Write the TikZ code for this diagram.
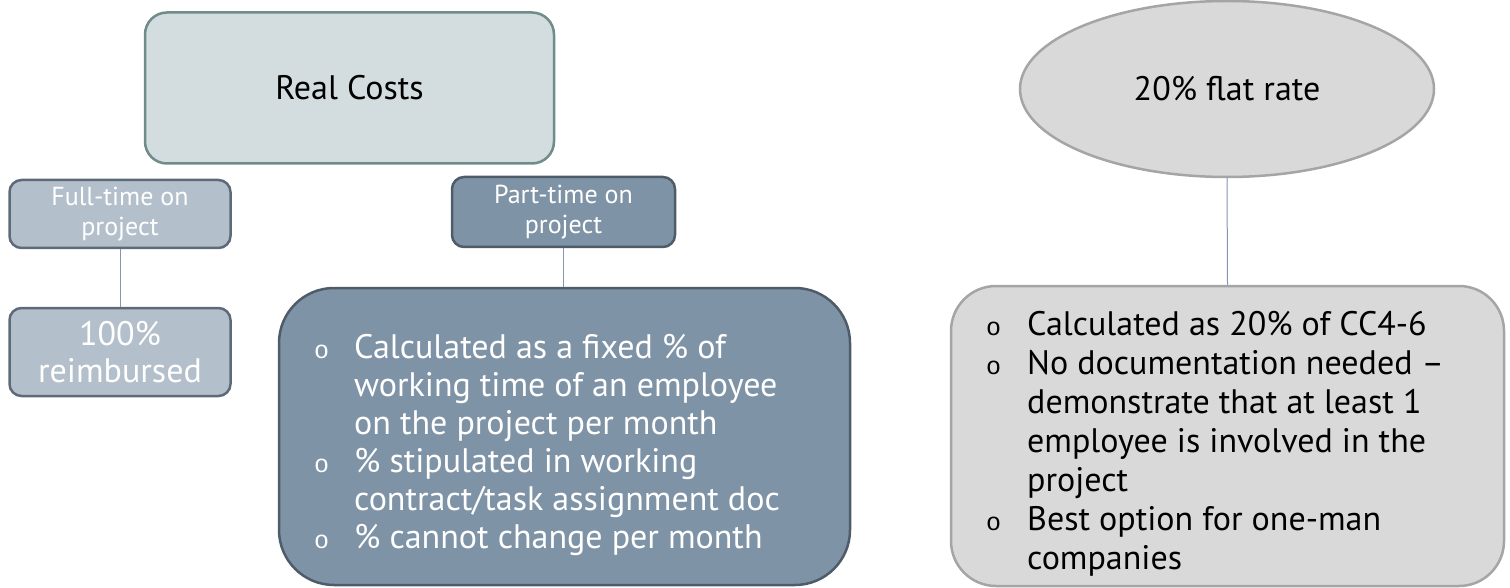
\documentclass[tikz,border=0pt]{standalone}
\usepackage{fontspec}
\setmainfont{PT Sans}
\newfontfamily\bulfont{Liberation Mono}
\usetikzlibrary{shapes.geometric}
\definecolor{realfill}{HTML}{D3DCDE}
\definecolor{realdraw}{HTML}{6F8C8A}
\definecolor{ftfill}{HTML}{B3BFCA}
\definecolor{ftdraw}{HTML}{5D6B78}
\definecolor{ptfill}{HTML}{7F93A6}
\definecolor{ptdraw}{HTML}{4E5C6A}
\definecolor{grayfill}{HTML}{D9D9D9}
\definecolor{graydraw}{HTML}{A5A5A5}
\definecolor{connc}{HTML}{8497AE}
\newcommand{\bul}{{\bulfont\fontsize{25}{25}\selectfont o}}
\tikzset{
  rbox/.style={rectangle, line width=2.5pt, inner sep=0pt, align=center},
  realbox/.style={rbox, fill=realfill, draw=realdraw, rounded corners=22pt, text=black},
  ftbox/.style={rbox, fill=ftfill, draw=ftdraw, rounded corners=12pt, text=white},
  ptbox/.style={rbox, fill=ptfill, draw=ptdraw, text=white},
  graybox/.style={rbox, fill=grayfill, draw=graydraw, text=black},
  conn/.style={draw=connc, line width=1pt},
  listtext/.style={inner sep=0pt, anchor=base west, align=left},
}
\begin{document}
\begin{tikzpicture}[x=1pt,y=-1pt]
\useasboundingbox (0,0) rectangle (1510,588);
% left group
\node[realbox, minimum width=409pt, minimum height=151pt, font=\fontsize{34}{40}\selectfont] (real) at (349.5,88) {Real Costs};
\node[ftbox, minimum width=221pt, minimum height=68pt, font=\fontsize{26}{30}\selectfont] (ft) at (120,214) {Full-time on\\project};
\node[ftbox, minimum width=221pt, minimum height=88pt, font=\fontsize{34}{37}\selectfont] (hr) at (120,352) {100\%\\reimbursed};
\node[ptbox, rounded corners=12pt, minimum width=223pt, minimum height=70pt, font=\fontsize{26}{30}\selectfont] (pt) at (563.5,212) {Part-time on\\project};
\node[ptbox, rounded corners=55pt, minimum width=571pt, minimum height=297pt] (big) at (564.5,436.5) {};
\node[listtext, text=white, font=\fontsize{34}{38}\selectfont] (bigtext) at (314,358) {%
\begin{tabular}[t]{@{}p{40pt}@{}l@{}}
\bul & Calculated as a fixed \% of\\
 & working time of an employee\\
 & on the project per month\\
\bul & \% stipulated in working\\
 & contract/task assignment doc\\
\bul & \% cannot change per month
\end{tabular}};
% right group
\node[graybox, ellipse, minimum width=414pt, minimum height=176pt, font=\fontsize{34}{40}\selectfont] (flat) at (1227,89) {20\% flat rate};
\node[graybox, rounded corners=45pt, minimum width=553pt, minimum height=300pt] (right) at (1227.5,436) {};
\node[listtext, text=black, font=\fontsize{34}{39}\selectfont] (righttext) at (986,335) {%
\begin{tabular}[t]{@{}p{41pt}@{}l@{}}
\bul & Calculated as 20\% of CC4-6\\
\bul & No documentation needed --\\
 & demonstrate that at least 1\\
 & employee is involved in the\\
 & project\\
\bul & Best option for one-man\\
 & companies
\end{tabular}};
% connectors
\draw[conn] (ft.south) -- (hr.north);
\draw[conn] (pt.south) -- (pt.south |- big.north);
\draw[conn] (flat.south) -- (right.north);
\end{tikzpicture}
\end{document}
